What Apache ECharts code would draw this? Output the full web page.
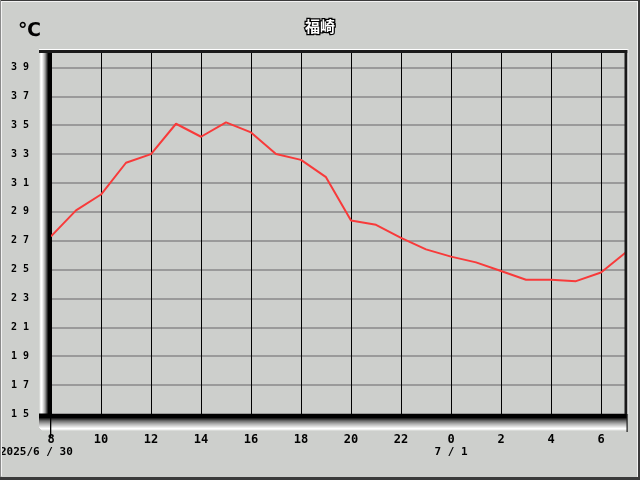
<!DOCTYPE html>
<html>
<head>
<meta charset="utf-8">
<script src="https://cdn.jsdelivr.net/npm/echarts@6/dist/echarts.min.js"></script>
<style>
html,body{margin:0;padding:0;background:#cdcfcc;}
#chart{width:640px;height:480px;}
</style>
</head>
<body>
<div id="chart"></div>
<script>
var titleText = '福崎';
var unitText = '℃';
var hours = ['8','9','10','11','12','13','14','15','16','17','18','19','20','21','22','23','0','1','2','3','4','5','6','7'];
var temps = [27.3, 29.1, 30.2, 32.4, 33.0, 35.1, 34.2, 35.2, 34.5, 33.0, 32.6, 31.4, 28.4, 28.1, 27.2, 26.4, 25.9, 25.5, 24.9, 24.3, 24.3, 24.2, 24.8, 26.2];
var yTicks = [15, 17, 19, 21, 23, 25, 27, 29, 31, 33, 35, 37, 39];
var dateLabels = ['2025/6 / 30', '7 / 1'];
var dateAnchors = ['8', '0'];

var chart = echarts.init(document.getElementById('chart'));
var G = {left: 51, top: 53, width: 575, height: 361};
var monoFont = '"DejaVu Sans Mono", "Liberation Mono", monospace';

var option = {
  backgroundColor: '#cdcfcc',
  animation: false,
  title: {
    text: titleText,
    left: 'center',
    top: 14,
    textStyle: {
      fontFamily: '"Noto Sans CJK JP", sans-serif',
      fontSize: 15,
      fontWeight: 'bold',
      color: '#ffffff',
      textBorderColor: '#000000',
      textBorderWidth: 2.5
    }
  },
  grid: {left: G.left, top: G.top, width: G.width, height: G.height, containLabel: false},
  xAxis: {
    type: 'category',
    data: hours,
    boundaryGap: false,
    axisLine: {show: false},
    axisTick: {show: false},
    axisLabel: {
      interval: 1,
      margin: 20,
      color: '#000',
      fontFamily: monoFont,
      fontWeight: 'bold',
      fontSize: 12
    },
    splitLine: {show: true, interval: 1, lineStyle: {color: '#000', width: 1}}
  },
  yAxis: {
    type: 'value',
    min: 15,
    max: 40,
    interval: 1,
    axisLine: {show: false},
    axisTick: {show: false},
    axisLabel: {
      margin: 22,
      color: '#000',
      fontFamily: monoFont,
      fontWeight: 'bold',
      fontSize: 10,
      formatter: function (v) {
        return yTicks.indexOf(v) >= 0 ? String(v).split('').join(' ') : '';
      }
    },
    splitLine: {show: true, lineStyle: {color: ['#9a9a9a', 'rgba(0,0,0,0)'], width: 2}}
  },
  series: [{
    type: 'line',
    data: temps,
    showSymbol: false,
    symbol: 'none',
    z: 5,
    lineStyle: {color: '#f83a3a', width: 2}
  }],
  graphic: []
};
chart.setOption(option);

var x0 = G.left, y0 = G.top, x1 = G.left + G.width, y1 = G.top + G.height;
var gfx = [
  // outer window frame
  {type: 'rect', shape: {x: 0, y: 0, width: 640, height: 1}, style: {fill: '#3a3a3a'}, z: 100},
  {type: 'rect', shape: {x: 0, y: 0, width: 1, height: 480}, style: {fill: '#8a8a8a'}, z: 100},
  {type: 'rect', shape: {x: 1, y: 1, width: 636, height: 1}, style: {fill: '#f2f2f2'}, z: 100},
  {type: 'rect', shape: {x: 1, y: 1, width: 1, height: 475}, style: {fill: '#f2f2f2'}, z: 100},
  {type: 'rect', shape: {x: 0, y: 477, width: 640, height: 3}, style: {fill: '#3a3a3a'}, z: 100},
  {type: 'rect', shape: {x: 638, y: 0, width: 2, height: 480}, style: {fill: '#3a3a3a'}, z: 100},
  {type: 'rect', shape: {x: 637, y: 1, width: 1, height: 476}, style: {fill: '#f2f2f2'}, z: 100}
];
// left bevel: 1px stripes from light (outside) to black (plot side)
var leftStripes = ['#d8dad7', '#f4f4f4', '#ffffff', '#eeeeee', '#d2d2d2', '#b2b2b2', '#8a8a8a', '#585858', '#262626', '#000000', '#000000', '#000000'];
for (var s = 0; s < leftStripes.length; s++) {
  gfx.push({type: 'rect', shape: {x: x0 - 12 + s, y: y0, width: 1, height: y1 - y0}, style: {fill: leftStripes[s]}, z: 50});
}
// bottom bevel: stripes from black (plot side) to light
var bottomStripes = ['#000000', '#000000', '#000000', '#000000', '#202020', '#404040', '#606060', '#7a7a7a', '#909090', '#a6a6a6', '#bababa', '#cccccc', '#dedede', '#efefef', '#ffffff', '#f2f2f2', '#dadcd9'];
for (var b = 0; b < bottomStripes.length; b++) {
  var inset = Math.max(0, b - 13);
  gfx.push({type: 'rect', shape: {x: x0 - 12 + inset, y: y1 + b, width: x1 - x0 + 13 - inset, height: 1}, style: {fill: bottomStripes[b]}, z: 50});
}
gfx = gfx.concat([
  // top edge
  {type: 'rect', shape: {x: x0 - 12, y: y0 - 4, width: x1 - x0 + 14, height: 1}, style: {fill: '#ffffff'}, z: 50},
  {type: 'rect', shape: {x: x0 - 12, y: y0 - 3, width: x1 - x0 + 14, height: 3}, style: {fill: '#1a1a1a'}, z: 50},
  // right edge
  {type: 'rect', shape: {x: x1 - 1.5, y: y0 - 3, width: 3, height: y1 - y0 + 3}, style: {fill: '#1a1a1a'}, z: 50},
  {type: 'rect', shape: {x: x1 + 1.5, y: y0 - 4, width: 1, height: y1 - y0 + 4}, style: {fill: '#f0f0f0'}, z: 50},
  {type: 'rect', shape: {x: x1 + 0.5, y: y1, width: 1.2, height: 18}, style: {fill: '#1a1a1a'}, z: 51},
  // ticks
  {type: 'rect', shape: {x: x0 - 1, y: y1, width: 1.3, height: 23}, style: {fill: '#000'}, z: 51},
  {type: 'rect', shape: {x: x0 - 12, y: y1 - 0.5, width: 12, height: 2}, style: {fill: '#000'}, z: 51},
  // unit
  {type: 'text', x: 18, y: 22, style: {text: unitText, fill: '#000', font: 'bold 19px "DejaVu Sans", sans-serif'}, z: 60}
]);
for (var i = 0; i < dateLabels.length; i++) {
  var px = chart.convertToPixel({xAxisIndex: 0}, dateAnchors[i]);
  var isFirst = i === 0;
  gfx.push({type: 'text', x: isFirst ? 0 : px, y: 447,
    style: {text: dateLabels[i], fill: '#000', font: 'bold 11px ' + monoFont, align: isFirst ? 'left' : 'center'}, z: 60});
}
chart.setOption({graphic: gfx});
</script>
</body>
</html>
